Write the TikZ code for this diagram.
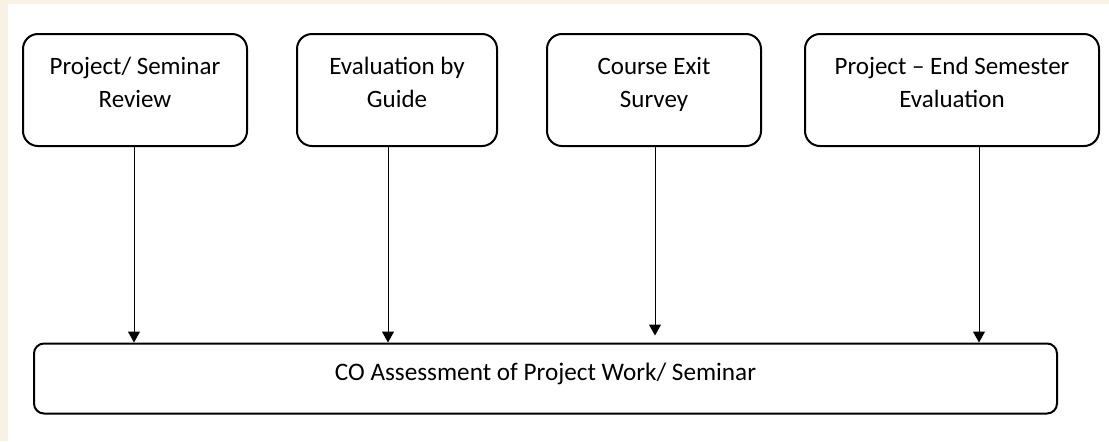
\documentclass[tikz,border=0pt]{standalone}
\usepackage{fontspec}
\setmainfont{Carlito}
\usetikzlibrary{arrows.meta,positioning}
\definecolor{pagecream}{HTML}{F7F2E4}

\tikzset{
  srcbox/.style={draw, line width=1pt, rounded corners=7.5pt, minimum height=56pt, inner sep=0pt},
  srctext/.style={anchor=base, align=center, inner sep=0pt, font=\fontsize{12.5}{16.4}\selectfont},
  cobox/.style={draw, line width=1pt, rounded corners=5pt, minimum width=511.5pt, minimum height=35pt,
    text height=7pt, text depth=4.8pt, font=\fontsize{12.6}{16.4}\selectfont},
  feed/.style={-{Triangle[width=6pt,length=5.5pt]}, line width=0.5pt},
}

\begin{document}
\begin{tikzpicture}[x=0.5pt, y=-0.5pt]
  % page
  \fill[pagecream] (0,0) rectangle (1109,441);
  \fill[white] (8,4) rectangle (1109,441);

  % input boxes
  \node[srcbox, minimum width=112pt] (review) at (135,90) {};
  \node[srcbox, minimum width=100pt] (guide) at (397,90) {};
  \node[srcbox, minimum width=107pt] (exit) at (654,90) {};
  \node[srcbox, minimum width=147pt] (endsem) at (952,90) {};

  % base anchor sits on the second line
  \node[srctext] (reviewtxt) at (135,107) {Project/ Seminar\\Review};
  \node[srctext] (guidetxt) at (397,107) {Evaluation by\\Guide};
  \node[srctext] (exittxt) at (654,107) {Course Exit\\Survey};
  \node[srctext] (endsemtxt) at (952,107) {Project -- End Semester\\Evaluation};

  % assessment box
  \node[cobox] (co) at (545.5,378.5) {CO Assessment of Project Work/ Seminar};

  % arrows
  \draw[feed] ([xshift=-0.5pt]review.south) -- ([xshift=-0.5pt]review.south |- co.north);
  \draw[feed] ([xshift=-4.5pt]guide.south) -- ([xshift=-4.5pt]guide.south |- co.north);
  \draw[feed] ([xshift=0.5pt]exit.south) -- ([xshift=0.5pt, yshift=3.5pt]exit.south |- co.north);
  \draw[feed] ([xshift=13.5pt]endsem.south) -- ([xshift=13.5pt]endsem.south |- co.north);
\end{tikzpicture}
\end{document}
